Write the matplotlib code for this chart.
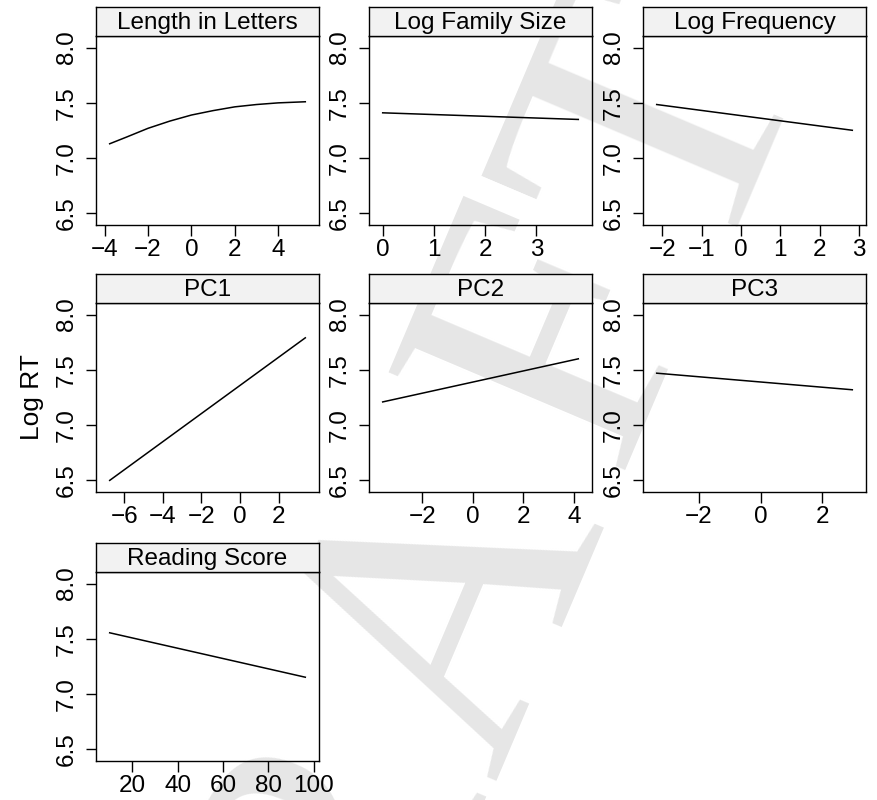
import matplotlib.pyplot as plt

plt.rcParams['font.family'] = ['Liberation Sans', 'DejaVu Sans']

# panel titles (lattice strips), in reading order
titles = ['Length in Letters', 'Log Family Size', 'Log Frequency',
          'PC1', 'PC2', 'PC3', 'Reading Score']

# partial effects
length_x = [-3.77, -3, -2, -1, 0, 1, 2, 3, 4, 5.25]
length_y = [7.13, 7.19, 7.27, 7.335, 7.39, 7.43, 7.464, 7.485, 7.50, 7.51]
famsize_x = [0.0, 3.82]
famsize_y = [7.41, 7.35]
freq_x = [-2.14, 2.83]
freq_y = [7.485, 7.252]
pc1_x = [-6.76, 3.39]
pc1_y = [6.50, 7.79]
pc2_x = [-3.57, 4.17]
pc2_y = [7.21, 7.60]
pc3_x = [-3.36, 2.97]
pc3_y = [7.47, 7.32]
reading_x = [10.0, 96.3]
reading_y = [7.555, 7.153]

xs = [length_x, famsize_x, freq_x, pc1_x, pc2_x, pc3_x, reading_x]
ys = [length_y, famsize_y, freq_y, pc1_y, pc2_y, pc3_y, reading_y]
xticks = [[-4, -2, 0, 2, 4], [0, 1, 2, 3], [-2, -1, 0, 1, 2, 3],
          [-6, -4, -2, 0, 2], [-2, 0, 2, 4], [-2, 0, 2],
          [20, 40, 60, 80, 100]]
yticks = [6.5, 7.0, 7.5, 8.0]

W, H = 877, 800
fig = plt.figure(figsize=(W / 100, H / 100), dpi=100)


def px_rect(left, top, w, h):
    return [left / W, 1 - (top + h) / H, w / W, h / H]


# light "DRAFT" watermark behind the panels, one letter at a time
wm_letters = ['D', 'R', 'A', 'F', 'T']
wm_pos = [(324, 1155), (430, 905), (548, 651), (656, 372), (756, 165)]
for ch, (px, py) in zip(wm_letters, wm_pos):
    fig.text(px / W, 1 - py / H, ch, family='Liberation Serif',
             fontsize=281, color='#e6e6e6', rotation=67,
             rotation_mode='anchor', ha='center', va='baseline', zorder=-5)

col_left = [96, 369, 643]
row_top = [36, 303, 572]
panel_w, panel_h, strip_h = 223, 189, 29
fs = 17.5

for i, title in enumerate(titles):
    r, c = divmod(i, 3)
    left, top = col_left[c], row_top[r]

    ax = fig.add_axes(px_rect(left, top, panel_w, panel_h))
    ax.set_facecolor('none')
    ax.plot(xs[i], ys[i], color='black', lw=1.1)
    ax.margins(x=0.07)
    ax.set_ylim(6.395, 8.105)
    ax.set_xticks(xticks[i])
    ax.set_yticks(yticks)
    ax.set_yticklabels(['6.5', '7.0', '7.5', '8.0'], rotation=90, va='center')
    ax.tick_params(axis='x', length=8, width=1, pad=2, labelsize=fs)
    ax.tick_params(axis='y', length=7, width=1, pad=6, labelsize=fs)
    for s in ax.spines.values():
        s.set_linewidth(1.0)

    sx = fig.add_axes(px_rect(left, top - strip_h, panel_w, strip_h))
    sx.set_facecolor('#f2f2f2')
    sx.set_xticks([])
    sx.set_yticks([])
    for s in sx.spines.values():
        s.set_linewidth(1.0)
    sx.text(0.5, 0.45, title, transform=sx.transAxes, ha='center',
            va='center', fontsize=fs)

fig.text(32 / W, 1 - 397 / H, 'Log RT', rotation=90, ha='center',
         va='center', fontsize=19)

fig.savefig('out.png', dpi=100)
